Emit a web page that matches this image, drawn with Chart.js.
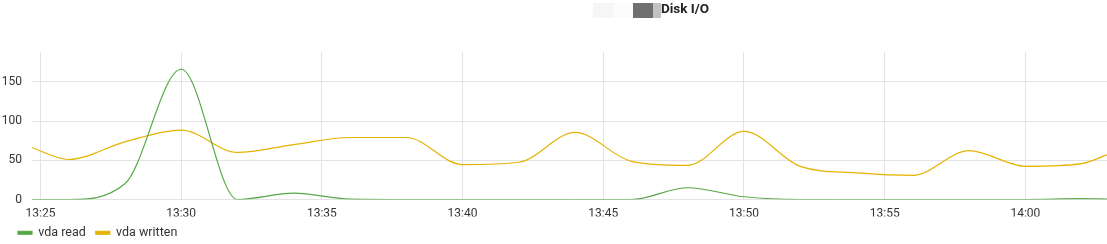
<!DOCTYPE html>
<html>
<head>
<meta charset="utf-8">
<script src="https://cdn.jsdelivr.net/npm/chart.js@4.4.1/dist/chart.umd.min.js"></script>
<style>
  html, body { margin: 0; padding: 0; background: #fff; }
  #wrap { position: relative; width: 1107px; height: 244px; }
</style>
</head>
<body>
<div id="wrap"><canvas id="myChart"></canvas></div>
<script>
// sample times (hh:mm:ss), one every two minutes
const times = ['13:24:42', '13:26', '13:28', '13:30', '13:32', '13:34', '13:36', '13:38',
  '13:40', '13:42', '13:44', '13:46', '13:48', '13:50', '13:52', '13:54', '13:56',
  '13:58', '14:00', '14:02', '14:02:54'];
const vdaRead = [0, 0, 20, 166, 0, 8, 0.5, 0, 0, 0, 0, 0, 15, 3.5, 0, 0, 0, 0, 0, 1, 0.5];
const vdaWritten = [66, 51, 73.5, 88.5, 60, 70, 79, 79, 44.5, 47.5, 85.5, 48.7, 43.6, 86.8,
  42.3, 34, 30.8, 62.4, 42.3, 45.7, 57];
const xTicks = ['13:25', '13:30', '13:35', '13:40', '13:45', '13:50', '13:55', '14:00'];
const yTicks = [0, 50, 100, 150];

// minutes after 13:00
function toMin(t) {
  const p = t.split(':').map(Number);
  return (p[0] - 13) * 60 + p[1] + (p[2] || 0) / 60;
}
function fmt(v) {
  const h = 13 + Math.floor(v / 60);
  const m = Math.round(v % 60);
  return h + ':' + String(m).padStart(2, '0');
}

const titlePlugin = {
  id: 'title',
  afterLayout(chart) {
    // nudge the legend to where it sits in the original
    chart.legend.left += 8;
  },
  afterDraw(chart) {
    const c = chart.ctx;
    c.save();
    // greyed-out part of the title
    c.fillStyle = '#f6f6f6'; c.fillRect(593, 3, 20, 15);
    c.fillStyle = '#fbfbfb'; c.fillRect(613, 3, 20, 15);
    c.fillStyle = '#6f6f6f'; c.fillRect(633, 3, 20, 15);
    c.fillStyle = '#c2c2c2'; c.fillRect(653, 3, 8, 15);
    c.font = 'bold 13.5px Roboto';
    c.fillStyle = '#222';
    c.textBaseline = 'middle';
    c.fillText('Disk I/O', 661, 10);
    c.restore();
  }
};

const ctx = document.getElementById('myChart').getContext('2d');
const myChart = new Chart(ctx, {
  type: 'line',
  data: {
    datasets: [{
      label: 'vda read',
      data: times.map((t, i) => ({ x: toMin(t), y: vdaRead[i] })),
      borderColor: '#55a845',
      backgroundColor: '#55a845',
      borderWidth: 1.2,
      pointRadius: 0,
      cubicInterpolationMode: 'monotone'
    }, {
      label: 'vda written',
      data: times.map((t, i) => ({ x: toMin(t), y: vdaWritten[i] })),
      borderColor: '#e4b200',
      backgroundColor: '#e4b200',
      borderWidth: 1.2,
      pointRadius: 0,
      cubicInterpolationMode: 'monotone'
    }]
  },
  plugins: [titlePlugin],
  options: {
    responsive: true,
    maintainAspectRatio: false,
    animation: false,
    layout: { padding: { top: 52, right: 0, left: 0, bottom: -5 } },
    plugins: {
      legend: {
        position: 'bottom',
        align: 'start',
        labels: {
          boxWidth: 14,
          boxHeight: 3,
          padding: 10,
          color: '#333',
          font: { family: 'Roboto', size: 12.5 }
        }
      },
      tooltip: { enabled: false }
    },
    scales: {
      x: {
        type: 'linear',
        min: toMin(times[0]),
        max: toMin(times[times.length - 1]),
        afterBuildTicks: s => { s.ticks = xTicks.map(t => ({ value: toMin(t) })); },
        afterFit: s => { s.height = 17; },
        ticks: {
          callback: v => fmt(v),
          color: '#333',
          font: { family: 'Roboto', size: 12 },
          maxRotation: 0,
          padding: 7
        },
        grid: { color: '#e3e3e3', drawTicks: false },
        border: { display: false }
      },
      y: {
        min: 0,
        max: 188,
        afterBuildTicks: s => { s.ticks = yTicks.map(v => ({ value: v })); },
        afterFit: s => { s.width = 32; },
        ticks: {
          color: '#333',
          font: { family: 'Roboto', size: 12 },
          padding: 10
        },
        grid: { color: '#e3e3e3', drawTicks: false },
        border: { display: false }
      }
    }
  }
});
</script>
</body>
</html>
